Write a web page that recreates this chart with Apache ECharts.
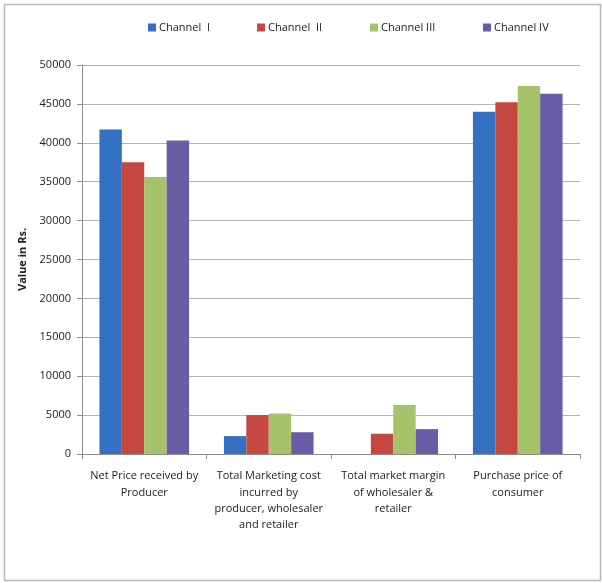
<!DOCTYPE html>
<html>
<head>
<meta charset="utf-8">
<script src="https://cdn.jsdelivr.net/npm/echarts@6/dist/echarts.min.js"></script>
<style>
  html, body { margin: 0; padding: 0; background: #fff; }
  #chart { width: 602px; height: 583px; }
</style>
</head>
<body>
<div id="chart"></div>
<script>
// Marketing channel cost breakdown (values in Rs.)
const categories = [
  'Net Price received by\nProducer',
  'Total Marketing cost\nincurred by\nproducer, wholesaler\nand retailer',
  'Total market margin\nof wholesaler &\nretailer',
  'Purchase price of\nconsumer'
];
const seriesNames = ['Channel  I', 'Channel  II', 'Channel III', 'Channel IV'];
const channel1 = [41700, 2300, 0, 44000];
const channel2 = [37500, 5000, 2600, 45200];
const channel3 = [35600, 5200, 6300, 47300];
const channel4 = [40300, 2800, 3200, 46300];
const yTicks = { min: 0, max: 50000, interval: 5000 };

const colors = ['#3471c3', '#c5473f', '#a7c36a', '#6a5ca6'];
const values = [channel1, channel2, channel3, channel4];
const font = '"Open Sans", "Liberation Sans", sans-serif';
const legendLeft = [143, 252, 365, 478];

const chart = echarts.init(document.getElementById('chart'));
chart.setOption({
  animation: false,
  color: colors,
  textStyle: { fontFamily: font },
  graphic: [{
    type: 'rect',
    shape: { x: 4.5, y: 4.5, width: 596, height: 576 },
    style: { fill: 'none', stroke: '#b8b8b8', lineWidth: 1.5 },
    silent: true
  }],
  legend: seriesNames.map((n, i) => ({
    data: [n],
    left: legendLeft[i],
    top: 17,
    itemWidth: 8,
    itemHeight: 8,
    itemGap: 3,
    icon: 'rect',
    textStyle: { fontFamily: font, fontSize: 11, color: '#222', padding: [0, 0, 0, -2] }
  })),
  grid: { left: 82, right: 22, top: 65, bottom: 129, containLabel: false },
  xAxis: {
    type: 'category',
    data: categories,
    axisLine: { lineStyle: { color: '#8c8c8c' } },
    axisTick: { show: true, length: 5, lineStyle: { color: '#8c8c8c' } },
    axisLabel: {
      interval: 0,
      fontFamily: font,
      fontSize: 11,
      color: '#222',
      lineHeight: 16.3,
      margin: 14,
      align: 'center'
    }
  },
  yAxis: {
    type: 'value',
    min: yTicks.min,
    max: yTicks.max,
    interval: yTicks.interval,
    name: 'Value in Rs.',
    nameLocation: 'middle',
    nameGap: 53,
    nameTextStyle: { fontFamily: font, fontSize: 11, fontWeight: 'bold', color: '#222' },
    axisLine: { show: true, lineStyle: { color: '#8c8c8c' } },
    axisTick: { show: true, length: 5, lineStyle: { color: '#8c8c8c' } },
    axisLabel: {
      fontFamily: font, fontSize: 11, color: '#222', margin: 11,
      formatter: v => String(v)
    },
    splitLine: { lineStyle: { color: '#b4b4b4' } }
  },
  series: seriesNames.map((n, i) => ({
    name: n,
    type: 'bar',
    data: values[i],
    barGap: '0%',
    barCategoryGap: '28%',
    itemStyle: { color: colors[i] }
  }))
});
</script>
</body>
</html>
